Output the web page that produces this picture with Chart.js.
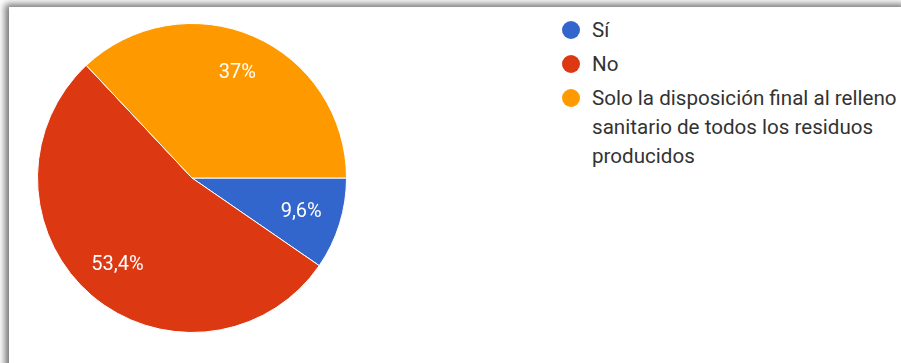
<!DOCTYPE html>
<html>
<head>
<meta charset="utf-8">
<script src="https://cdn.jsdelivr.net/npm/chart.js@4"></script>
<style>
    html, body {
        margin: 0;
        padding: 0;
        background: #fff;
    }
    #wrap {
        position: relative;
        width: 901px;
        height: 363px;
        overflow: hidden;
        background: #fff;
    }
    #card {
        position: absolute;
        left: 9px;
        top: 7px;
        width: 900px;
        height: 370px;
        background: #fff;
        box-shadow: -4px -3px 7px rgba(0, 0, 0, 0.55);
    }
    #chart-box {
        position: absolute;
        left: 0;
        top: 0;
        width: 384px;
        height: 363px;
    }
    #legend {
        position: absolute;
        left: 562px;
        top: 16px;
        margin: 0;
        padding: 0;
        list-style: none;
        font-family: Roboto, Arial, sans-serif;
        font-size: 20.6px;
        line-height: 29px;
        color: #333;
        white-space: nowrap;
    }
    #legend li {
        position: relative;
        padding-left: 30px;
        margin-bottom: 5px;
    }
    #legend .dot {
        position: absolute;
        left: 0;
        top: 5px;
        width: 18px;
        height: 18px;
        border-radius: 50%;
    }
</style>
</head>
<body>
<div id="wrap">
    <div id="card"></div>
    <div id="chart-box"><canvas id="pie"></canvas></div>
    <ul id="legend"></ul>
</div>
<script>
// 数据
const labels = ['Sí', 'No', ['Solo la disposición final al relleno', 'sanitario de todos los residuos', 'producidos']];
const values = [9.6, 53.4, 37];
const colors = ['#3366cc', '#dc3912', '#ff9900'];

// 百分比标签
const sliceLabels = {
    id: 'sliceLabels',
    afterDatasetsDraw(chart) {
        const ctx = chart.ctx;
        const meta = chart.getDatasetMeta(0);
        ctx.save();
        ctx.fillStyle = '#fff';
        ctx.font = '20px Roboto, Arial, sans-serif';
        ctx.textAlign = 'center';
        ctx.textBaseline = 'middle';
        meta.data.forEach((arc, i) => {
            const p = arc.getProps(['x', 'y', 'startAngle', 'endAngle', 'outerRadius'], true);
            const mid = (p.startAngle + p.endAngle) / 2;
            const r = p.outerRadius * 0.74;
            const text = String(values[i]).replace('.', ',') + '%';
            ctx.fillText(text, p.x + Math.cos(mid) * r, p.y + Math.sin(mid) * r);
        });
        ctx.restore();
    }
};

const chart = new Chart(document.getElementById('pie'), {
    type: 'pie',
    data: {
        labels: labels,
        datasets: [{
            data: values,
            backgroundColor: colors,
            borderColor: '#fff',
            borderWidth: 1
        }]
    },
    options: {
        responsive: true,
        maintainAspectRatio: false,
        animation: false,
        rotation: 90,
        layout: {
            padding: { left: 37, right: 37, top: 23, bottom: 30 }
        },
        plugins: {
            legend: { display: false },
            tooltip: { enabled: false }
        }
    },
    plugins: [sliceLabels]
});

// 图例
const legendEl = document.getElementById('legend');
chart.data.labels.forEach((label, i) => {
    const li = document.createElement('li');
    const dot = document.createElement('span');
    dot.className = 'dot';
    dot.style.background = colors[i];
    li.appendChild(dot);
    [].concat(label).forEach((line, j) => {
        if (j > 0) li.appendChild(document.createElement('br'));
        li.appendChild(document.createTextNode(line));
    });
    legendEl.appendChild(li);
});
</script>
</body>
</html>
